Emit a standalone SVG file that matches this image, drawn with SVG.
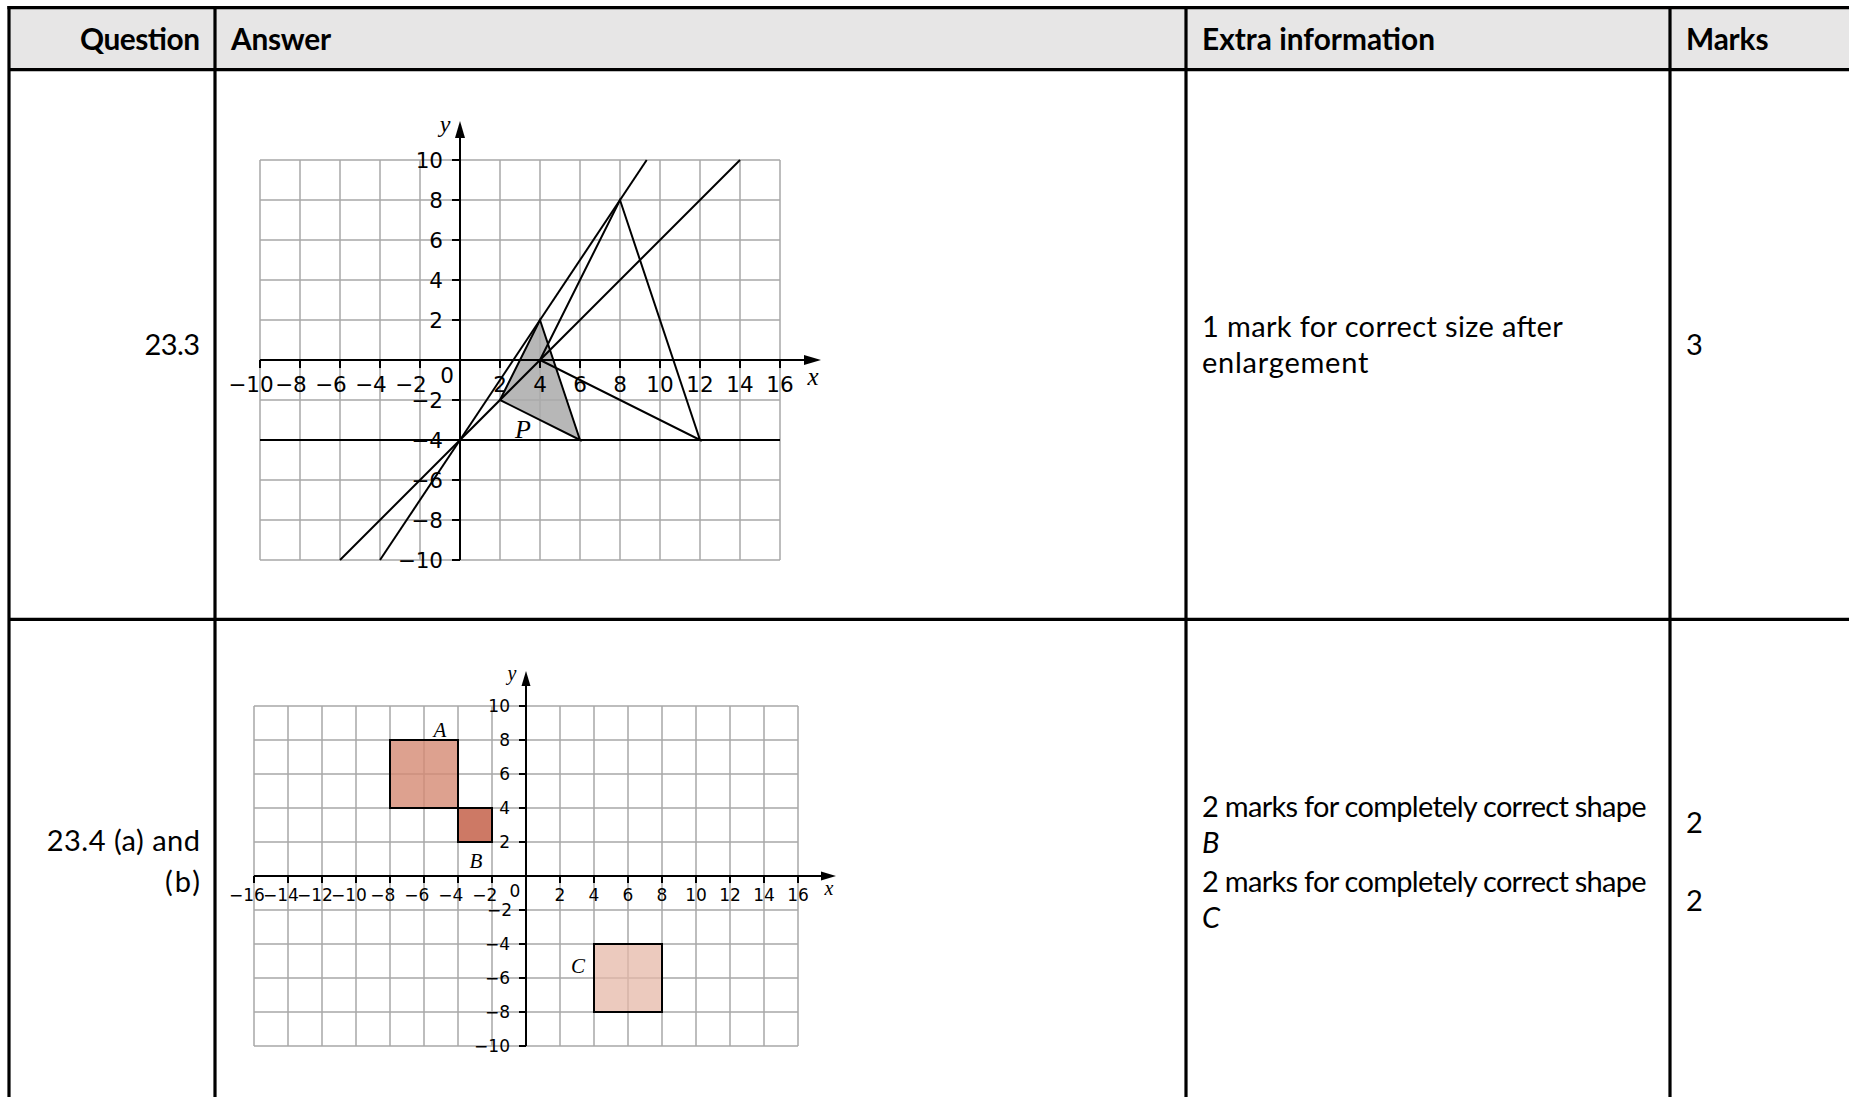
<svg xmlns="http://www.w3.org/2000/svg" width="1849" height="1097" viewBox="0 0 1849 1097">
<style>
.hd{font-family:Lato,"Liberation Sans",sans-serif;font-weight:bold;font-size:29.8px;fill:#000}
.tx{font-family:Lato,"Liberation Sans",sans-serif;font-size:29px;fill:#000}
.it{font-style:italic}
.bd{stroke:#000;stroke-width:3.2;fill:none}
.grid{stroke:#a8a8a8;stroke-width:1.5;fill:none}
.ax{stroke:#000;stroke-width:2;fill:none}
.ln{stroke:#000;stroke-width:2;fill:none}
.l1{font-family:"DejaVu Sans",sans-serif;font-size:21.5px;fill:#000}
.l2{font-family:"DejaVu Sans",sans-serif;font-size:17px;fill:#000}
.vr{font-family:"Liberation Serif","Times New Roman",serif;font-style:italic;fill:#000}
</style>
<rect x="0" y="0" width="1849" height="1097" fill="#fff"/>
<g id="header">
<rect x="9" y="7.7" width="1840" height="62" fill="#e7e6e6"/>
<text class="hd" x="200" y="50" text-anchor="end" textLength="120">Question</text>
<text class="hd" x="231" y="50" textLength="100">Answer</text>
<text class="hd" x="1202" y="50" textLength="233">Extra information</text>
<text class="hd" x="1686" y="50" textLength="82.5">Marks</text>
</g>
<g id="table-lines">
<line class="bd" x1="7.4" y1="7.7" x2="1849" y2="7.7"/>
<line class="bd" x1="9" y1="6" x2="9" y2="1097"/>
<line class="bd" x1="9" y1="69.7" x2="1849" y2="69.7"/>
<line class="bd" x1="9" y1="619.3" x2="1849" y2="619.3"/>
<line class="bd" x1="215" y1="6" x2="215" y2="1097"/>
<line class="bd" x1="1186" y1="6" x2="1186" y2="1097"/>
<line class="bd" x1="1670" y1="6" x2="1670" y2="1097"/>
</g>
<g id="row1-text">
<text class="tx" x="200" y="355" text-anchor="end" textLength="55.4">23.3</text>
<text class="tx" x="1202" y="337" textLength="360.8">1 mark for correct size after</text>
<text class="tx" x="1202" y="373" textLength="166.3">enlargement</text>
<text class="tx" x="1686" y="355">3</text>
</g>
<g id="row2-text">
<text class="tx" x="200" y="851" text-anchor="end" textLength="153.3">23.4 (a) and</text>
<text class="tx" x="200" y="892" text-anchor="end" textLength="35">(b)</text>
<text class="tx" x="1202" y="817" textLength="444.6">2 marks for completely correct shape</text>
<text class="tx it" x="1202" y="853">B</text>
<text class="tx" x="1202" y="892" textLength="444.6">2 marks for completely correct shape</text>
<text class="tx it" x="1202" y="928">C</text>
<text class="tx" x="1686" y="833">2</text>
<text class="tx" x="1686" y="911">2</text>
</g>
<g id="chart1">
<g class="grid">
<path d="M260 160V560M300 160V560M340 160V560M380 160V560M420 160V560M460 160V560M500 160V560M540 160V560M580 160V560M620 160V560M660 160V560M700 160V560M740 160V560M780 160V560"/>
<path d="M260 160H780M260 200H780M260 240H780M260 280H780M260 320H780M260 360H780M260 400H780M260 440H780M260 480H780M260 520H780M260 560H780"/>
</g>
<polygon points="500,400 540,320 580,440" fill="#aaaaaa" fill-opacity="0.85" stroke="#000" stroke-width="2"/>
<g class="ln">
<line x1="260" y1="440" x2="780" y2="440"/>
<line x1="340" y1="560" x2="740" y2="160"/>
<line x1="380" y1="560" x2="646.7" y2="160"/>
<polygon points="540,360 620,200 700,440"/>
</g>
<g class="ax">
<line x1="260" y1="360" x2="806" y2="360"/>
<line x1="460" y1="560" x2="460" y2="136"/>
<path d="M260 360v8M300 360v8M340 360v8M380 360v8M420 360v8M500 360v8M540 360v8M580 360v8M620 360v8M660 360v8M700 360v8M740 360v8M780 360v8"/>
<path d="M452 160h8M452 200h8M452 240h8M452 280h8M452 320h8M452 400h8M452 440h8M452 480h8M452 520h8M452 560h8"/>
</g>
<polygon points="821,360 804,355 804,365" fill="#000"/>
<polygon points="460,121 455,138 465,138" fill="#000"/>
<g class="l1">
<text x="273.7" y="392" text-anchor="end">−10</text>
<text x="306.8" y="392" text-anchor="end">−8</text>
<text x="346.8" y="392" text-anchor="end">−6</text>
<text x="386.8" y="392" text-anchor="end">−4</text>
<text x="426.8" y="392" text-anchor="end">−2</text>
<text x="447" y="383" text-anchor="middle">0</text>
<text x="500" y="392" text-anchor="middle">2</text>
<text x="540" y="392" text-anchor="middle">4</text>
<text x="580" y="392" text-anchor="middle">6</text>
<text x="620" y="392" text-anchor="middle">8</text>
<text x="660" y="392" text-anchor="middle">10</text>
<text x="700" y="392" text-anchor="middle">12</text>
<text x="740" y="392" text-anchor="middle">14</text>
<text x="780" y="392" text-anchor="middle">16</text>
<text x="443" y="167.8" text-anchor="end">10</text>
<text x="443" y="207.8" text-anchor="end">8</text>
<text x="443" y="247.8" text-anchor="end">6</text>
<text x="443" y="287.8" text-anchor="end">4</text>
<text x="443" y="327.8" text-anchor="end">2</text>
<text x="443" y="407.8" text-anchor="end">−2</text>
<text x="443" y="447.8" text-anchor="end">−4</text>
<text x="443" y="487.8" text-anchor="end">−6</text>
<text x="443" y="527.8" text-anchor="end">−8</text>
<text x="443" y="567.8" text-anchor="end">−10</text>
</g>
<text class="vr" x="445" y="132" font-size="24" text-anchor="middle">y</text>
<text class="vr" x="813" y="385" font-size="25" text-anchor="middle">x</text>
<text class="vr" x="523" y="438" font-size="26" text-anchor="middle">P</text>
</g>
<g id="chart2">
<g class="grid">
<path d="M254 706V1046M288 706V1046M322 706V1046M356 706V1046M390 706V1046M424 706V1046M458 706V1046M492 706V1046M526 706V1046M560 706V1046M594 706V1046M628 706V1046M662 706V1046M696 706V1046M730 706V1046M764 706V1046M798 706V1046"/>
<path d="M254 706H798M254 740H798M254 774H798M254 808H798M254 842H798M254 876H798M254 910H798M254 944H798M254 978H798M254 1012H798M254 1046H798"/>
</g>
<g id="shapeA"><rect x="390" y="740" width="68" height="68" fill="#d48a73" fill-opacity="0.8" stroke="#000" stroke-width="2"/></g>
<g id="shapeB"><rect x="458" y="808" width="34" height="34" fill="#c4624a" fill-opacity="0.85" stroke="#000" stroke-width="2"/></g>
<g id="shapeC"><rect x="594" y="944" width="68" height="68" fill="#e6b8a8" fill-opacity="0.75" stroke="#000" stroke-width="2"/></g>
<g class="ax">
<line x1="254" y1="876" x2="822" y2="876"/>
<line x1="526" y1="1046" x2="526" y2="686"/>
<path d="M254 876v7M288 876v7M322 876v7M356 876v7M390 876v7M424 876v7M458 876v7M492 876v7M560 876v7M594 876v7M628 876v7M662 876v7M696 876v7M730 876v7M764 876v7M798 876v7"/>
<path d="M519 706h7M519 740h7M519 774h7M519 808h7M519 842h7M519 910h7M519 944h7M519 978h7M519 1012h7M519 1046h7"/>
</g>
<polygon points="836,876 821,871.5 821,880.5" fill="#000"/>
<polygon points="526,671 521.5,686 530.5,686" fill="#000"/>
<g class="l2">
<text x="264.8" y="901" text-anchor="end">−16</text>
<text x="298.8" y="901" text-anchor="end">−14</text>
<text x="332.8" y="901" text-anchor="end">−12</text>
<text x="366.8" y="901" text-anchor="end">−10</text>
<text x="395.4" y="901" text-anchor="end">−8</text>
<text x="429.4" y="901" text-anchor="end">−6</text>
<text x="463.4" y="901" text-anchor="end">−4</text>
<text x="497.4" y="901" text-anchor="end">−2</text>
<text x="515" y="897" text-anchor="middle">0</text>
<text x="560" y="901" text-anchor="middle">2</text>
<text x="594" y="901" text-anchor="middle">4</text>
<text x="628" y="901" text-anchor="middle">6</text>
<text x="662" y="901" text-anchor="middle">8</text>
<text x="696" y="901" text-anchor="middle">10</text>
<text x="730" y="901" text-anchor="middle">12</text>
<text x="764" y="901" text-anchor="middle">14</text>
<text x="798" y="901" text-anchor="middle">16</text>
<text x="510" y="712.2" text-anchor="end">10</text>
<text x="510" y="746.2" text-anchor="end">8</text>
<text x="510" y="780.2" text-anchor="end">6</text>
<text x="510" y="814.2" text-anchor="end">4</text>
<text x="510" y="848.2" text-anchor="end">2</text>
<text x="512" y="916.2" text-anchor="end">−2</text>
<text x="510" y="950.2" text-anchor="end">−4</text>
<text x="510" y="984.2" text-anchor="end">−6</text>
<text x="510" y="1018.2" text-anchor="end">−8</text>
<text x="510" y="1052.2" text-anchor="end">−10</text>
</g>
<text class="vr" x="512" y="680" font-size="20" text-anchor="middle">y</text>
<text class="vr" x="829" y="895" font-size="20" text-anchor="middle">x</text>
<text class="vr" x="440" y="737" font-size="21" text-anchor="middle">A</text>
<text class="vr" x="476" y="868" font-size="21" text-anchor="middle">B</text>
<text class="vr" x="578" y="973" font-size="21" text-anchor="middle">C</text>
</g>
</svg>
